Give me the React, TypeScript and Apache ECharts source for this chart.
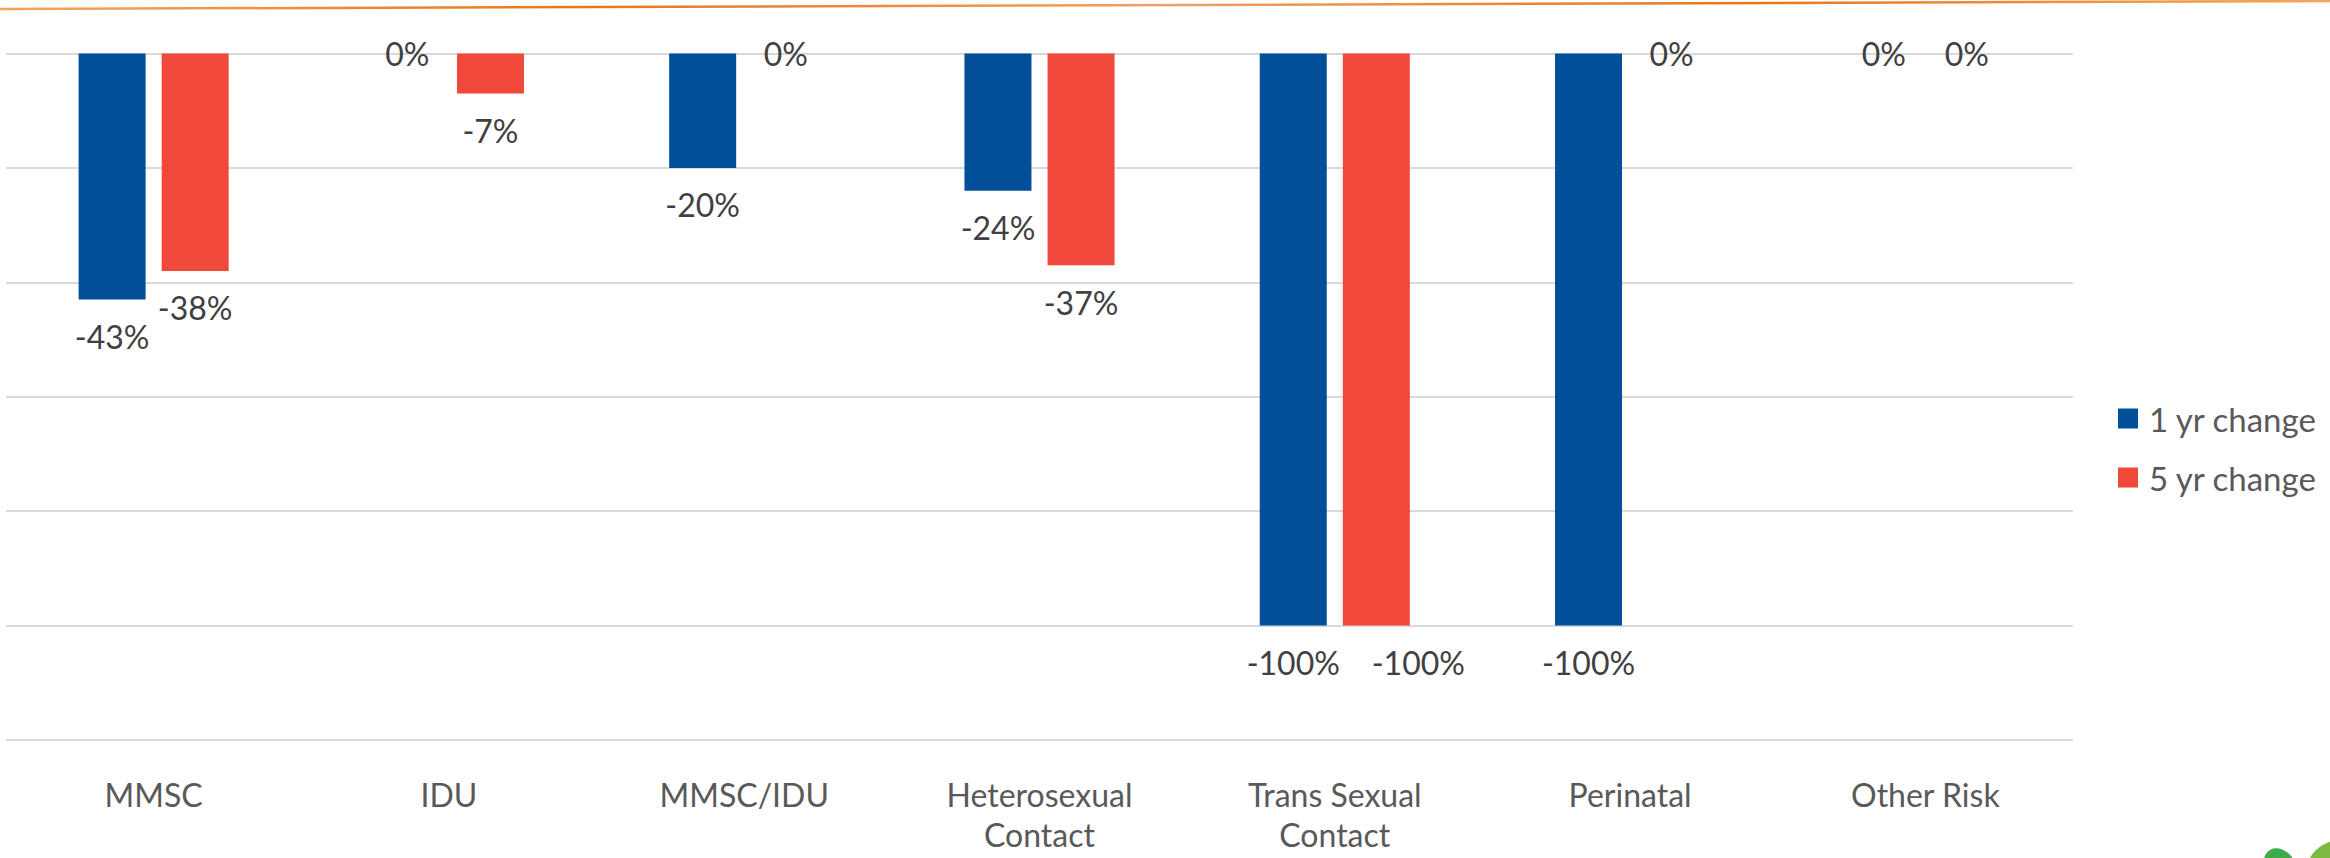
import React, { useEffect, useRef } from "react";
import * as echarts from "echarts";

const categories = [
  "MMSC",
  "IDU",
  "MMSC/IDU",
  "Heterosexual\nContact",
  "Trans Sexual\nContact",
  "Perinatal",
  "Other Risk",
];
const seriesNames = ["1 yr change", "5 yr change"];
const oneYearChange = [-43, 0, -20, -24, -100, -100, 0];
const fiveYearChange = [-38, -7, 0, -37, -100, 0, 0];
const yMin = -120;
const yMax = 0;
const yStep = 20;

const BLUE = "#004F98";
const RED = "#F0483B";
const FONT = "Lato";

// Labels of the second series are nudged right when both bars of a category
// carry wide (three-digit) labels, as in the reference.
function toItems(values: number[], other: number[] | null) {
  return values.map((v, i) => {
    const wide = other !== null && Math.abs(v) >= 100 && Math.abs(other[i]) >= 100;
    return {
      value: v,
      label: {
        position: v === 0 ? "inside" : "outside",
        offset: wide ? [42, 0] : [0, 0],
      },
    };
  });
}

export default function App() {
  const ref = useRef<HTMLDivElement>(null);
  useEffect(() => {
    if (!ref.current) return;
    const chart = echarts.init(ref.current, null, { renderer: "svg" });
    const labelStyle = {
      show: true,
      formatter: "{c}%",
      color: "#404040",
      fontSize: 32,
      fontFamily: FONT,
      distance: 21,
    };
    chart.setOption({
      animation: false,
      backgroundColor: "#ffffff",
      grid: { left: 6, right: 257, top: 53.5, bottom: 118, containLabel: false },
      legend: {
        data: seriesNames,
        orient: "vertical",
        left: 2113,
        top: 397,
        itemWidth: 20,
        itemHeight: 20,
        itemGap: 26,
        icon: "rect",
        textStyle: { color: "#595959", fontSize: 33, fontFamily: FONT, padding: [0, 0, 0, 6] },
      },
      xAxis: {
        type: "category",
        data: categories,
        axisLine: { show: false, onZero: false },
        axisTick: { show: false },
        axisLabel: {
          interval: 0,
          color: "#595959",
          fontSize: 32,
          fontFamily: FONT,
          lineHeight: 40,
          margin: 34,
        },
      },
      yAxis: {
        type: "value",
        min: yMin,
        max: yMax,
        interval: yStep,
        axisLabel: { show: false },
        axisLine: { show: false },
        axisTick: { show: false },
        splitLine: { show: true, lineStyle: { color: "#D9D9D9", width: 2 } },
      },
      series: [
        {
          name: seriesNames[0],
          type: "bar",
          data: toItems(oneYearChange, null),
          barWidth: 67,
          barGap: "24%",
          itemStyle: { color: BLUE },
          label: labelStyle,
        },
        {
          name: seriesNames[1],
          type: "bar",
          data: toItems(fiveYearChange, oneYearChange),
          barWidth: 67,
          barGap: "24%",
          itemStyle: { color: RED },
          label: labelStyle,
        },
      ],
      graphic: [
        {
          type: "line",
          shape: { x1: 0, y1: 9, x2: 2330, y2: 1 },
          style: {
            lineWidth: 2.5,
            stroke: {
              type: "linear",
              x: 0,
              y: 0,
              x2: 1,
              y2: 0,
              colorStops: [
                { offset: 0, color: "#F3A65E" },
                { offset: 0.25, color: "#E8761C" },
                { offset: 0.5, color: "#F0A060" },
                { offset: 0.75, color: "#E8761C" },
                { offset: 1, color: "#F3A65E" },
              ],
            },
          },
          silent: true,
        },
        {
          type: "ellipse",
          shape: { cx: 2281, cy: 868, rx: 15, ry: 20 },
          rotation: 0.6,
          originX: 2281,
          originY: 868,
          style: { fill: "#3EAA48" },
          silent: true,
        },
        {
          type: "circle",
          shape: { cx: 2341, cy: 876, r: 36 },
          style: { fill: "#7DBA42" },
          silent: true,
        },
      ],
    });
    return () => chart.dispose();
  }, []);
  return (
    <div
      ref={ref}
      style={{ position: "fixed", left: 0, top: 0, width: 2330, height: 858, background: "#fff" }}
    />
  );
}
